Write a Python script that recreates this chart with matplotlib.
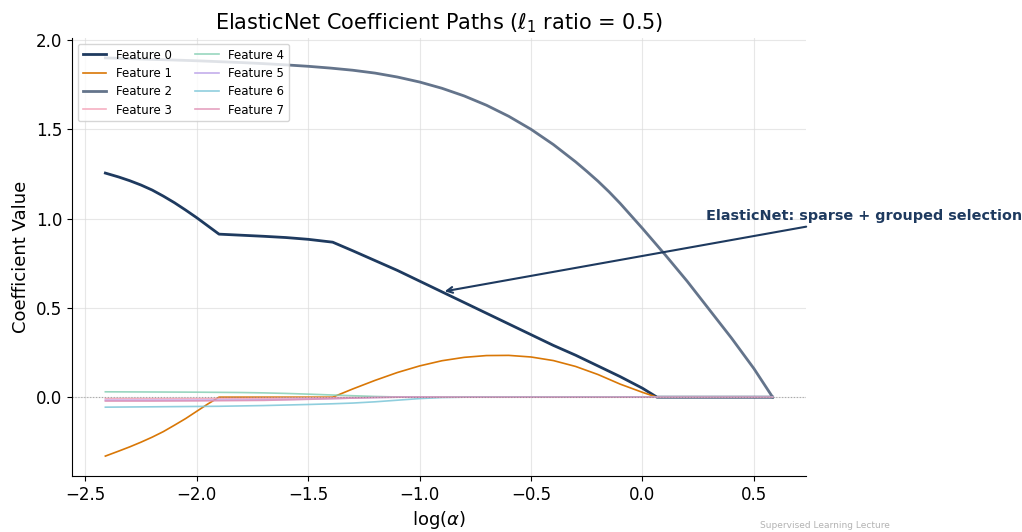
import numpy as np
import matplotlib
matplotlib.use("Agg")
import matplotlib.pyplot as plt

# Coefficient paths: (log(alpha), coefficient) per feature
x0 = [-2.41, -2.35, -2.3, -2.25, -2.2, -2.15, -2.1, -2.05, -2.0, -1.95, -1.9,
      -1.8, -1.7, -1.6, -1.5, -1.39, -1.3, -1.2, -1.1, -1.0, -0.9, -0.8, -0.7,
      -0.6, -0.5, -0.4, -0.3, -0.2, -0.1, 0.0, 0.065, 0.584]
feat0 = [1.255, 1.233, 1.212, 1.188, 1.160, 1.126, 1.089, 1.048, 1.005, 0.959, 0.913,
         0.907, 0.901, 0.894, 0.884, 0.868, 0.820, 0.765, 0.710, 0.650, 0.590, 0.530, 0.470,
         0.410, 0.350, 0.290, 0.235, 0.175, 0.115, 0.050, 0.0, 0.0]

x1 = [-2.41, -2.35, -2.3, -2.25, -2.2, -2.15, -2.1, -2.05, -2.0, -1.95, -1.9,
      -1.39, -1.3, -1.2, -1.1, -1.0, -0.9, -0.8, -0.7, -0.6, -0.5, -0.4, -0.3,
      -0.2, -0.1, 0.0, 0.065, 0.584]
feat1 = [-0.330, -0.302, -0.278, -0.252, -0.224, -0.193, -0.157, -0.120, -0.079, -0.038, 0.0,
         0.0, 0.046, 0.094, 0.138, 0.175, 0.204, 0.223, 0.233, 0.234, 0.225, 0.205, 0.172,
         0.127, 0.073, 0.027, 0.0, 0.0]

x2 = [-2.41, -2.3, -2.2, -2.1, -2.0, -1.9, -1.8, -1.7, -1.6, -1.5, -1.4, -1.3, -1.2,
      -1.1, -1.0, -0.9, -0.8, -0.7, -0.6, -0.5, -0.4, -0.3, -0.25, -0.2, -0.15, -0.1,
      -0.05, 0.0, 0.1, 0.2, 0.3, 0.4, 0.5, 0.584]
feat2 = [1.900, 1.896, 1.892, 1.888, 1.884, 1.879, 1.874, 1.868, 1.861, 1.853, 1.843, 1.831, 1.815,
         1.793, 1.765, 1.730, 1.687, 1.635, 1.573, 1.500, 1.415, 1.318, 1.265, 1.210, 1.150, 1.085,
         1.015, 0.945, 0.800, 0.650, 0.490, 0.330, 0.160, 0.0]

# small coefficients that shrink to zero early
xs = [-2.41, -2.2, -2.0, -1.9, -1.8, -1.7, -1.6, -1.5, -1.39, -1.3, -1.2, -1.1, -1.0,
      -0.9, -0.8, 0.584]
feat3 = [-0.008, -0.008, -0.008, -0.007, -0.007, -0.006, -0.005, -0.004, -0.003, -0.001, 0.0, 0.0, 0.0,
         0.0, 0.0, 0.0]
feat4 = [0.030, 0.029, 0.028, 0.027, 0.026, 0.024, 0.021, 0.017, 0.012, 0.008, 0.004, 0.001, 0.0,
         0.0, 0.0, 0.0]
feat5 = [-0.017, -0.017, -0.017, -0.016, -0.016, -0.015, -0.013, -0.011, -0.008, -0.005, -0.002, 0.0, 0.0,
         0.0, 0.0, 0.0]
feat6 = [-0.056, -0.054, -0.052, -0.051, -0.049, -0.047, -0.044, -0.041, -0.037, -0.033, -0.026, -0.017, -0.008,
         -0.002, 0.0, 0.0]
feat7 = [-0.022, -0.022, -0.021, -0.020, -0.019, -0.018, -0.015, -0.012, -0.008, -0.005, -0.002, 0.0, 0.0,
         0.0, 0.0, 0.0]

paths = [(x0, feat0), (x1, feat1), (x2, feat2), (xs, feat3),
         (xs, feat4), (xs, feat5), (xs, feat6), (xs, feat7)]
colors = ["#1e3a5f", "#d97706", "#64748b", "#f4a3b8", "#86cfb4", "#b9a0e8", "#7cc6d8", "#e091b5"]
widths = [2.0, 1.2, 2.0, 1.2, 1.2, 1.2, 1.2, 1.2]
alphas = [1.0, 1.0, 1.0, 0.85, 0.85, 0.85, 0.85, 0.85]

fig = plt.figure(figsize=(10.22, 5.32), dpi=100)
ax = fig.add_axes([72 / 1022, 56 / 532, 734 / 1022, 438 / 532])

for i, (xv, yv) in enumerate(paths):
    ax.plot(xv, yv, color=colors[i], lw=widths[i], alpha=alphas[i], label=f"Feature {i}")

ax.axhline(0, color="gray", ls=":", lw=0.8, alpha=0.6)

ax.annotate("ElasticNet: sparse + grouped selection", xy=(-0.9, 0.59), xytext=(0.283, 0.99),
            fontsize=10.4, fontweight="bold", color="#1e3a5f",
            arrowprops=dict(arrowstyle="->", color="#1e3a5f", lw=1.5))

ax.set_title(r"ElasticNet Coefficient Paths ($\ell_1$ ratio = 0.5)", fontsize=15)
ax.set_xlabel(r"log($\alpha$)", fontsize=13)
ax.set_ylabel("Coefficient Value", fontsize=13)
ax.tick_params(labelsize=12)
ax.grid(True, color="#dddddd", lw=0.8, alpha=0.7)
ax.spines["top"].set_visible(False)
ax.spines["right"].set_visible(False)
ax.legend(loc="upper left", ncol=2, fontsize=8.5, labelspacing=0.45)

fig.text(0.871, 0.004, "Supervised Learning Lecture", ha="right", va="bottom",
         fontsize=6.5, color="gray", alpha=0.6)

fig.savefig("out.png", dpi=100)
